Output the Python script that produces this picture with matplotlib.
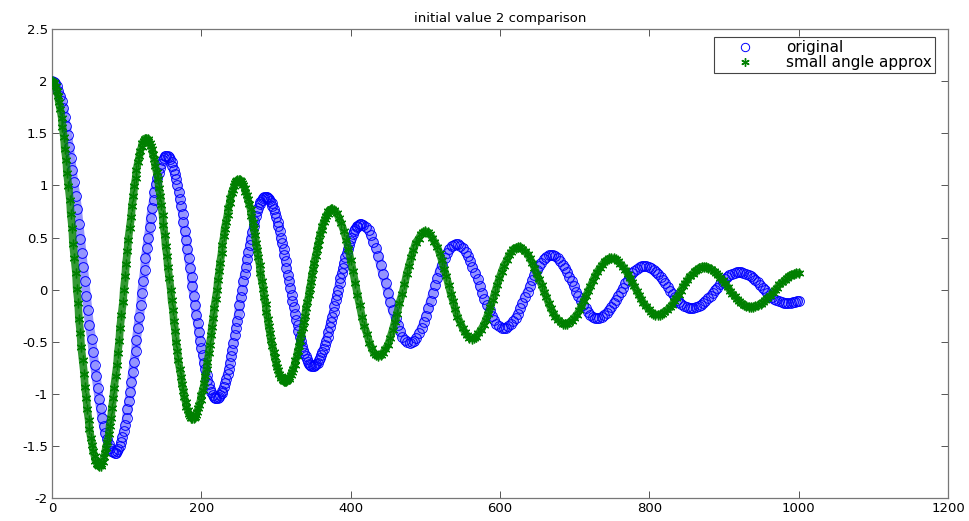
import matplotlib
matplotlib.use("Agg")
import matplotlib.pyplot as plt

# ---------------- data ----------------
green_t = [
    0,2,3,5,6,8,9,11,13,14,16,17,19,20,22,24,25,27,28,30,32,33,35,36,38,39,41,43,44,46,47,49,50,52,54,55,57,58,60,61,
    63,65,66,68,69,71,72,74,76,77,79,80,82,83,85,87,88,90,91,93,95,96,98,99,101,102,104,106,107,109,110,112,113,115,117,118,120,121,123,124,
    126,128,129,131,132,134,135,137,138,140,142,143,145,146,148,149,151,152,154,155,157,159,160,162,163,165,166,168,169,171,173,174,176,177,179,180,182,183,185,186,
    188,190,191,193,194,196,197,199,200,202,204,205,207,208,210,211,213,214,216,217,219,221,222,224,225,227,228,230,231,233,235,236,238,239,241,242,244,245,247,248,
    250,252,253,255,256,258,259,261,262,264,266,267,269,270,272,273,275,276,278,279,281,283,284,286,287,289,290,292,293,295,297,298,300,301,303,304,306,307,309,310,
    312,314,315,317,318,320,321,323,325,326,328,329,331,332,334,336,337,339,340,342,344,345,347,348,350,351,353,355,356,358,359,361,362,364,366,367,369,370,372,373,
    375,378,381,384,387,391,394,397,400,403,406,409,412,415,418,422,425,428,431,434,
    437,440,443,446,450,453,456,459,462,465,469,472,475,478,481,484,487,491,494,497,
    500,503,506,509,512,516,519,522,525,528,531,534,537,540,543,547,550,553,556,559,
    562,565,568,571,574,578,581,584,587,590,593,596,599,602,605,609,612,615,618,621,
    624,627,630,633,637,640,643,646,649,652,656,659,662,665,668,671,674,678,681,684,
    687,690,693,696,699,703,706,709,712,715,718,721,724,727,730,734,737,740,743,746,
    749,752,755,758,761,765,768,771,774,777,780,783,786,789,792,796,799,802,805,808,
    811,814,817,820,823,827,830,833,836,839,842,845,848,851,854,858,861,864,867,870,
    873,876,879,882,886,889,892,895,898,901,905,908,911,914,917,920,923,927,930,933,
    936,939,942,946,949,952,955,958,962,965,968,971,974,978,981,984,987,990,994,997,1000,
]
green_v = [
    2.00,1.99,1.98,1.95,1.91,1.86,1.80,1.73,1.65,1.56,1.46,1.35,1.24,1.12,0.99,0.86,0.73,0.59,0.44,0.30,0.16,
    0.01,-0.13,-0.28,-0.42,-0.55,-0.68,-0.81,-0.93,-1.04,-1.15,-1.25,-1.34,-1.42,-1.49,-1.55,-1.60,-1.64,-1.67,-1.68,
    -1.69,-1.69,-1.67,-1.65,-1.61,-1.57,-1.52,-1.46,-1.39,-1.31,-1.23,-1.14,-1.04,-0.94,-0.83,-0.72,-0.61,-0.49,-0.37,-0.24,-0.12,
    0.00,0.13,0.25,0.37,0.48,0.59,0.70,0.80,0.90,0.99,1.07,1.15,1.22,1.28,1.33,1.37,1.41,1.43,1.45,
    1.45,1.45,1.43,1.41,1.38,1.35,1.30,1.25,1.19,1.13,1.06,0.98,0.90,0.81,0.72,0.62,0.52,0.42,0.32,0.22,0.11,
    0.00,-0.10,-0.20,-0.30,-0.40,-0.50,-0.59,-0.68,-0.76,-0.84,-0.91,-0.97,-1.03,-1.08,-1.13,-1.16,-1.19,-1.21,-1.23,
    -1.23,-1.23,-1.22,-1.20,-1.17,-1.14,-1.11,-1.06,-1.01,-0.96,-0.90,-0.83,-0.76,-0.69,-0.61,-0.53,-0.44,-0.36,-0.27,-0.18,-0.09,
    0.00,0.09,0.18,0.26,0.35,0.43,0.51,0.58,0.65,0.72,0.78,0.83,0.88,0.93,0.96,0.99,1.02,1.04,1.05,
    1.05,1.05,1.04,1.02,1.00,0.98,0.94,0.91,0.87,0.82,0.77,0.71,0.65,0.59,0.52,0.45,0.38,0.31,0.24,0.16,0.085,
    0.01,-0.07,-0.14,-0.21,-0.28,-0.35,-0.42,-0.48,-0.54,-0.60,-0.65,-0.70,-0.74,-0.77,-0.81,-0.83,-0.85,-0.87,-0.88,
    -0.88,-0.88,-0.87,-0.86,-0.84,-0.82,-0.79,-0.76,-0.72,-0.68,-0.64,-0.59,-0.54,-0.49,-0.43,-0.37,-0.31,-0.25,-0.18,-0.12,-0.055,
    0.01,0.07,0.14,0.20,0.26,0.32,0.38,0.43,0.48,0.53,0.57,0.61,0.65,0.68,0.71,0.73,0.75,0.76,0.77,
    0.77,0.76,0.74,0.69,0.64,0.56,0.48,0.39,0.28,0.18,0.065,-0.05,-0.15,-0.26,-0.35,-0.43,-0.51,-0.56,-0.61,-0.63,
    -0.64,-0.63,-0.61,-0.57,-0.53,-0.46,-0.39,-0.31,-0.23,-0.13,-0.04,0.05,0.15,0.23,0.31,0.38,0.45,0.49,0.53,0.55,
    0.56,0.55,0.53,0.50,0.46,0.41,0.35,0.28,0.20,0.13,0.045,-0.04,-0.11,-0.19,-0.26,-0.32,-0.37,-0.41,-0.44,-0.46,
    -0.47,-0.46,-0.45,-0.42,-0.39,-0.34,-0.29,-0.23,-0.17,-0.10,-0.03,0.04,0.11,0.17,0.23,0.28,0.33,0.36,0.39,0.40,
    0.41,0.41,0.39,0.37,0.34,0.30,0.26,0.21,0.15,0.10,0.04,-0.02,-0.07,-0.13,-0.18,-0.22,-0.26,-0.29,-0.31,-0.33,
    -0.33,-0.33,-0.31,-0.30,-0.27,-0.24,-0.20,-0.16,-0.11,-0.06,-0.015,0.03,0.08,0.13,0.17,0.21,0.24,0.27,0.28,0.30,
    0.30,0.30,0.29,0.27,0.25,0.22,0.19,0.15,0.11,0.07,0.03,-0.01,-0.05,-0.09,-0.13,-0.16,-0.19,-0.21,-0.23,-0.24,
    -0.24,-0.24,-0.23,-0.21,-0.20,-0.17,-0.15,-0.11,-0.08,-0.05,-0.01,0.03,0.06,0.09,0.13,0.15,0.18,0.19,0.21,0.22,
    0.22,0.22,0.21,0.20,0.18,0.16,0.14,0.11,0.09,0.06,0.025,-0.01,-0.04,-0.06,-0.09,-0.11,-0.13,-0.15,-0.16,-0.17,
    -0.17,-0.17,-0.16,-0.15,-0.14,-0.12,-0.10,-0.08,-0.06,-0.03,-0.005,0.02,0.05,0.07,0.09,0.11,0.13,0.14,0.15,0.16,0.16,
]

blue_t = [
    0,2,4,6,8,11,13,15,17,19,21,23,25,27,29,32,34,36,38,40,42,44,46,48,50,53,55,57,59,61,63,65,67,69,71,74,76,78,80,82,
    84,86,87,89,91,93,94,96,98,100,101,103,105,106,108,110,112,113,115,117,119,120,122,124,125,127,129,131,132,134,136,137,139,141,143,144,146,148,150,151,
    153,155,156,158,160,161,163,165,166,168,170,171,173,175,176,178,180,181,183,185,187,188,190,192,193,195,197,198,200,202,203,205,207,208,210,212,213,215,217,218,
    220,222,223,225,227,228,230,232,233,235,237,238,240,241,243,245,246,248,250,251,253,255,256,258,260,261,263,265,266,268,270,271,273,274,276,278,279,281,283,284,
    286,288,289,291,292,294,295,297,299,300,302,303,305,306,308,310,311,313,314,316,318,319,321,322,324,325,327,329,330,332,333,335,336,338,340,341,343,344,346,347,
    349,351,352,354,356,357,359,360,362,364,365,367,369,370,372,373,375,377,378,380,382,383,385,386,388,390,391,393,395,396,398,399,401,403,404,406,408,409,411,412,
    414,417,421,424,427,430,434,437,440,443,447,450,453,456,460,463,466,469,473,476,
    479,482,485,488,491,495,498,501,504,507,510,513,516,519,522,526,529,532,535,538,
    541,544,547,551,554,557,560,563,567,570,573,576,579,583,586,589,592,595,599,602,
    605,608,611,614,618,621,624,627,630,633,637,640,643,646,649,652,655,659,662,665,
    668,671,674,677,680,684,687,690,693,696,699,702,705,708,711,715,718,721,724,727,
    730,733,736,739,743,746,749,752,755,758,762,765,768,771,774,777,780,784,787,790,
    793,796,799,802,806,809,812,815,818,821,825,828,831,834,837,840,843,847,850,853,
    856,859,862,866,869,872,875,878,882,885,888,891,894,898,901,904,907,910,914,917,
    920,923,926,929,933,936,939,942,945,948,952,955,958,961,964,967,970,974,977,980,
    983,986,989,992,995,998,1000,
]
blue_v = [
    2.00,1.99,1.98,1.95,1.91,1.86,1.81,1.74,1.66,1.57,1.48,1.37,1.26,1.15,1.03,0.90,0.77,0.63,0.49,0.35,0.215,
    0.08,-0.06,-0.20,-0.34,-0.47,-0.60,-0.72,-0.83,-0.94,-1.05,-1.14,-1.23,-1.31,-1.38,-1.43,-1.48,-1.52,-1.55,-1.56,
    -1.57,-1.57,-1.55,-1.53,-1.50,-1.46,-1.41,-1.36,-1.30,-1.23,-1.15,-1.07,-0.98,-0.89,-0.79,-0.69,-0.59,-0.48,-0.37,-0.26,-0.145,
    -0.03,0.08,0.19,0.30,0.40,0.50,0.60,0.69,0.78,0.86,0.94,1.01,1.07,1.12,1.17,1.21,1.24,1.26,1.28,
    1.28,1.28,1.27,1.25,1.22,1.19,1.15,1.11,1.06,1.00,0.94,0.87,0.80,0.73,0.65,0.56,0.48,0.39,0.30,0.21,0.12,
    0.03,-0.06,-0.15,-0.24,-0.32,-0.41,-0.49,-0.56,-0.63,-0.70,-0.76,-0.82,-0.87,-0.91,-0.95,-0.98,-1.01,-1.03,-1.04,
    -1.04,-1.04,-1.03,-1.01,-0.99,-0.97,-0.93,-0.90,-0.86,-0.81,-0.76,-0.70,-0.64,-0.58,-0.51,-0.44,-0.37,-0.30,-0.23,-0.15,-0.075,
    0.00,0.08,0.15,0.22,0.29,0.36,0.43,0.49,0.55,0.61,0.66,0.71,0.75,0.78,0.82,0.84,0.86,0.88,0.89,
    0.89,0.89,0.88,0.87,0.85,0.83,0.80,0.77,0.74,0.70,0.65,0.61,0.56,0.50,0.45,0.39,0.33,0.27,0.21,0.14,0.08,
    0.02,-0.05,-0.11,-0.17,-0.23,-0.29,-0.34,-0.40,-0.45,-0.49,-0.54,-0.58,-0.61,-0.64,-0.67,-0.69,-0.71,-0.72,-0.73,
    -0.73,-0.73,-0.72,-0.71,-0.70,-0.68,-0.66,-0.63,-0.60,-0.57,-0.53,-0.49,-0.45,-0.41,-0.36,-0.31,-0.26,-0.21,-0.16,-0.10,-0.05,
    0.00,0.06,0.11,0.16,0.21,0.26,0.31,0.35,0.39,0.43,0.47,0.50,0.53,0.56,0.58,0.60,0.61,0.62,0.63,
    0.63,0.62,0.60,0.57,0.52,0.46,0.395,0.32,0.24,0.15,0.06,-0.03,-0.12,-0.20,-0.275,-0.34,-0.40,-0.45,-0.48,-0.50,
    -0.51,-0.50,-0.49,-0.46,-0.42,-0.37,-0.31,-0.25,-0.18,-0.11,-0.035,0.04,0.11,0.18,0.24,0.30,0.35,0.39,0.42,0.43,
    0.44,0.435,0.42,0.40,0.36,0.32,0.27,0.22,0.16,0.10,0.035,-0.03,-0.09,-0.15,-0.20,-0.25,-0.29,-0.33,-0.35,-0.365,
    -0.37,-0.37,-0.35,-0.33,-0.30,-0.27,-0.23,-0.18,-0.13,-0.07,-0.02,0.03,0.09,0.14,0.19,0.23,0.26,0.29,0.31,0.33,
    0.33,0.33,0.32,0.30,0.27,0.24,0.21,0.17,0.12,0.08,0.03,-0.02,-0.06,-0.11,-0.15,-0.18,-0.21,-0.24,-0.26,-0.27,
    -0.27,-0.27,-0.26,-0.24,-0.22,-0.20,-0.17,-0.13,-0.10,-0.06,-0.02,0.02,0.06,0.09,0.13,0.16,0.18,0.20,0.22,0.23,
    0.23,0.23,0.22,0.21,0.19,0.17,0.15,0.12,0.09,0.06,0.025,-0.01,-0.04,-0.07,-0.10,-0.12,-0.14,-0.16,-0.17,-0.18,
    -0.18,-0.18,-0.17,-0.16,-0.15,-0.13,-0.11,-0.08,-0.06,-0.03,-0.005,0.02,0.05,0.07,0.10,0.12,0.14,0.15,0.16,0.17,
    0.17,0.17,0.16,0.15,0.14,0.13,0.11,0.09,0.07,0.04,0.02,0.00,-0.03,-0.05,-0.07,-0.09,-0.10,-0.11,-0.12,-0.13,
    -0.13,-0.13,-0.125,-0.12,-0.115,-0.11,-0.105,
]

series_labels = ["original", "small angle approx"]
title_text = "initial value 2 comparison"
x_ticks = [0, 200, 400, 600, 800, 1000, 1200]
y_ticks = [-2, -1.5, -1, -0.5, 0, 0.5, 1, 1.5, 2, 2.5]
y_tick_labels = ["-2", "-1.5", "-1", "-0.5", "0", "0.5", "1", "1.5", "2", "2.5"]

# ---------------- drawing ----------------
plt.rcParams['font.family'] = ['DejaVu Sans']
fig = plt.figure(figsize=(9.69, 5.21), dpi=100)
ax = fig.add_axes([0.0537, 0.0441, 0.9247, 0.900])

blue_c = (0, 0, 1)
green_c = (0, 0.5, 0)
n_b = min(len(blue_t), len(blue_v))
n_g = min(len(green_t), len(green_v))

# soft band beneath the dense markers (the reference markers overlap into bands)
ax.plot(blue_t[:n_b], blue_v[:n_b], color=blue_c, alpha=0.42, linewidth=6.5,
        solid_capstyle='round', zorder=1)
ax.plot(green_t[:n_g], green_v[:n_g], color=green_c, alpha=0.8, linewidth=5.5,
        solid_capstyle='round', zorder=3)

ax.plot(blue_t[:n_b], blue_v[:n_b], linestyle='none', marker='o', markersize=7,
        markerfacecolor='none', markeredgecolor=blue_c, markeredgewidth=0.7,
        label=series_labels[0], zorder=2)
ax.plot(green_t[:n_g], green_v[:n_g], linestyle='none', marker=(6, 2, 0), markersize=7,
        markeredgecolor=green_c, markerfacecolor=green_c, markeredgewidth=1.0,
        label=series_labels[1], zorder=4)

ax.set_xlim(0, 1200)
ax.set_ylim(-2, 2.5)
ax.set_xticks(x_ticks)
ax.set_xticklabels([str(v) for v in x_ticks])
ax.set_yticks(y_ticks)
ax.set_yticklabels(y_tick_labels)
ax.tick_params(direction='in', length=5, width=0.7, top=True, right=True,
               labelsize=9.5, color='#555555', pad=3)
for s in ax.spines.values():
    s.set_color('#777777')
    s.set_linewidth(0.9)

ax.set_title(title_text, fontsize=9.5, pad=5)

leg = ax.legend(loc='upper right', bbox_to_anchor=(0.9855, 0.983), borderaxespad=0,
                fontsize=11, numpoints=1, handlelength=3.6, handletextpad=0.9,
                borderpad=0.2, labelspacing=0.0, fancybox=False, framealpha=1)
leg.get_frame().set_edgecolor('#444444')
leg.get_frame().set_linewidth(0.8)
for h in leg.legend_handles:
    h.set_markersize(6)

fig.savefig('out.png', dpi=100)
